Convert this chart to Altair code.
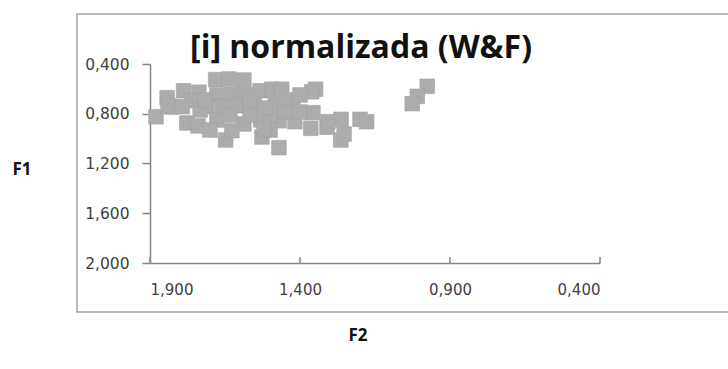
import altair as alt
import pandas as pd

# F2 (x) and F1 (y) values of the normalized [i] tokens
f2 = [1.880, 1.681, 1.637, 1.587, 1.843, 1.788, 1.737, 1.827, 1.777, 1.740,
      1.648, 1.470, 1.527, 1.264, 1.348, 1.361, 1.200, 1.178, 1.263, 1.253,
      0.976, 1.009, 1.026, 1.533, 1.494, 1.461, 1.677, 1.627, 1.578, 1.711,
      1.660, 1.610, 1.553, 1.483, 1.423, 1.357, 1.677, 1.587, 1.531, 1.470,
      1.417, 1.364, 1.310, 1.627, 1.840, 1.433, 1.307, 1.761, 1.793, 1.733,
      1.400, 1.567, 1.500, 1.717, 1.633, 1.567, 1.517, 1.450, 1.400, 1.700,
      1.500, 1.520]
f1 = [0.824, 0.526, 0.521, 0.529, 0.671, 0.615, 0.627, 0.746, 0.874, 0.898,
      1.011, 1.073, 0.987, 1.011, 0.603, 0.623, 0.845, 0.864, 0.845, 0.963,
      0.579, 0.660, 0.719, 0.615, 0.603, 0.603, 0.649, 0.644, 0.649, 0.743,
      0.743, 0.735, 0.735, 0.722, 0.735, 0.791, 0.850, 0.882, 0.850, 0.856,
      0.864, 0.917, 0.909, 0.936, 0.735, 0.689, 0.864, 0.695, 0.743, 0.770,
      0.786, 0.810, 0.810, 0.689, 0.810, 0.689, 0.754, 0.786, 0.649, 0.931,
      0.931, 0.923]

x_ticks = [1.9, 1.4, 0.9, 0.4]
y_ticks = [0.4, 0.8, 1.2, 1.6, 2.0]

W, H = 450, 199
LABEL_FONT = "DejaVu Sans"
TITLE_FONT = "Open Sans"
AXIS_GREY = "#868686"
LABEL_COLOR = "#404040"
comma_fmt = "replace(format(datum.value, '.3f'), '.', ',')"

points = pd.DataFrame({"F2": f2, "F1": f1})
tick_df = pd.DataFrame({"F2": x_ticks})
one = pd.DataFrame({"k": [0]})

x_scale = alt.Scale(domain=[0.4, 1.9], reverse=True, nice=False, zero=False)
y_scale = alt.Scale(domain=[0.4, 2.0], reverse=True, nice=False, zero=False)

# outer chart-area frame
frame = alt.Chart(one).mark_rect(
    fillOpacity=0, stroke="#a3a3a3", strokeWidth=1.5
).encode(
    x=alt.value(-73), x2=alt.value(620),
    y=alt.value(-50), y2=alt.value(248),
)

scatter = alt.Chart(points).mark_square(
    size=215, filled=True, color="#acacac", opacity=1,
    stroke="#a2a2a2", strokeWidth=0.6,
).encode(
    x=alt.X("F2:Q", scale=x_scale,
            axis=alt.Axis(values=x_ticks, title=None, grid=False,
                          tickSize=0, labelPadding=19,
                          labelExpr=comma_fmt, labelFont=LABEL_FONT,
                          labelFontSize=15, labelColor=LABEL_COLOR,
                          domainColor=AXIS_GREY, domainWidth=1.5)),
    y=alt.Y("F1:Q", scale=y_scale,
            axis=alt.Axis(values=y_ticks, title=None, grid=False,
                          tickSize=8, tickColor=AXIS_GREY, tickWidth=1.5,
                          labelPadding=13, labelExpr=comma_fmt,
                          labelFont=LABEL_FONT, labelFontSize=15.5,
                          labelColor=LABEL_COLOR,
                          domainColor=AXIS_GREY, domainWidth=1.5)),
)

# x-axis tick marks pointing into the plot
x_tick_marks = alt.Chart(tick_df).mark_rule(
    color=AXIS_GREY, strokeWidth=1.5
).encode(
    x=alt.X("F2:Q", scale=x_scale),
    y=alt.value(H - 6), y2=alt.value(H),
)

title = alt.Chart(one).mark_text(
    text="[i] normalizada (W&F)", font=TITLE_FONT, fontWeight="bold",
    fontSize=32, align="center", baseline="middle", color="#111111",
).encode(x=alt.value(211), y=alt.value(-16))

f1_label = alt.Chart(one).mark_text(
    text="F1", font=TITLE_FONT, fontWeight="bold", fontSize=17,
    align="center", baseline="middle", color="#111111",
).encode(x=alt.value(-128), y=alt.value(106))

f2_label = alt.Chart(one).mark_text(
    text="F2", font=TITLE_FONT, fontWeight="bold", fontSize=17,
    align="center", baseline="middle", color="#111111",
).encode(x=alt.value(208), y=alt.value(272))

chart = alt.layer(
    frame, scatter, x_tick_marks, title, f1_label, f2_label
).properties(
    width=W, height=H,
    autosize=alt.AutoSizeParams(type="none"),
    padding={"left": 150, "top": 64, "right": 128, "bottom": 106},
    background="white",
).configure_view(stroke=None)

chart.save("out.html", embed_options={"renderer": "svg", "actions": False})
